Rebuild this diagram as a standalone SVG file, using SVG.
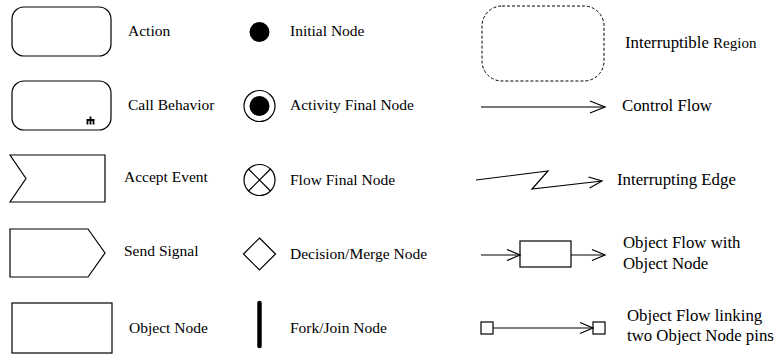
<svg xmlns="http://www.w3.org/2000/svg" width="780" height="356" viewBox="0 0 780 356">
  <defs>
    <style>
      .shape { fill: #fff; stroke: #000; stroke-width: 1.2; }
      .label { font-family: "Liberation Serif", "Times New Roman", serif; font-size: 15.5px; fill: #000; }
      .big { font-size: 16.8px; }
      .edge { fill: none; stroke: #000; stroke-width: 1.2; }
    </style>
    <marker id="open" markerWidth="16" markerHeight="14" refX="14" refY="6" orient="auto" markerUnits="userSpaceOnUse">
      <path d="M1,0.5 L14,6 L1,11.5" fill="none" stroke="#000" stroke-width="1.2"/>
    </marker>
  </defs>
  <rect width="780" height="356" fill="#fff"/>

  <!-- column 1: action shapes -->
  <g id="action">
    <rect class="shape" x="12" y="7" width="99" height="49" rx="12"/>
    <text class="label" x="128" y="36">Action</text>
  </g>
  <g id="call-behavior">
    <rect class="shape" x="12" y="81" width="99" height="49" rx="12"/>
    <path d="M90.5,116.5 V124.5 M86.5,120 H94.5 M87.5,120 V124.5 M93.5,120 V124.5" fill="none" stroke="#000" stroke-width="1.8"/>
    <text class="label" x="128" y="110">Call Behavior</text>
  </g>
  <g id="accept-event">
    <polygon class="shape" points="10,155 105,155 105,202 10,202 26,178.5"/>
    <text class="label" x="124" y="182">Accept Event</text>
  </g>
  <g id="send-signal">
    <polygon class="shape" points="10,229 88,229 105,253 88,277 10,277"/>
    <text class="label" x="124" y="256">Send Signal</text>
  </g>
  <g id="object-node">
    <rect class="shape" x="12" y="303" width="100" height="50" stroke-width="1.6"/>
    <text class="label" x="129" y="333">Object Node</text>
  </g>

  <!-- column 2: control nodes -->
  <g id="initial-node">
    <circle cx="259.5" cy="32" r="10" fill="#000"/>
    <text class="label" x="290" y="36">Initial Node</text>
  </g>
  <g id="activity-final">
    <circle class="shape" cx="259.5" cy="106" r="15.5"/>
    <circle cx="259.5" cy="106" r="10" fill="#000"/>
    <text class="label" x="290" y="110">Activity Final Node</text>
  </g>
  <g id="flow-final">
    <circle class="shape" cx="259.5" cy="180" r="15.5"/>
    <path d="M248.5,169 L270.5,191 M270.5,169 L248.5,191" stroke="#000" stroke-width="1.2"/>
    <text class="label" x="290" y="185">Flow Final Node</text>
  </g>
  <g id="decision-merge">
    <polygon class="shape" points="259.5,238 275.5,254 259.5,270 243.5,254"/>
    <text class="label" x="290" y="259">Decision/Merge Node</text>
  </g>
  <g id="fork-join">
    <line x1="259.5" y1="303" x2="259.5" y2="346" stroke="#000" stroke-width="4.5" stroke-linecap="round"/>
    <text class="label" x="290" y="333">Fork/Join Node</text>
  </g>

  <!-- column 3: region and edges -->
  <g id="interruptible-region">
    <rect x="482" y="6" width="122" height="75" rx="20" fill="none" stroke="#000" stroke-width="1" stroke-dasharray="3,2"/>
    <text class="label big" x="625" y="48">Interruptible <tspan font-size="15">Region</tspan></text>
  </g>
  <g id="pin-left">
    <rect class="shape" x="481" y="322" width="12" height="12"/>
  </g>
  <g id="object-flow-node">
    <rect class="shape" x="520" y="241" width="51" height="26" stroke-width="1.4"/>
  </g>
  <g id="pin-right">
    <rect class="shape" x="593" y="322" width="12" height="12"/>
  </g>

  <g id="connectors">
    <line x1="481" y1="107" x2="605" y2="107" stroke="#777" stroke-width="2"/>
    <path d="M590,101 L605,107 L590,113" fill="none" stroke="#000" stroke-width="1.2"/>
    <polyline class="edge" points="476,180 548,171 532,189 602,181" marker-end="url(#open)"/>
    <line class="edge" x1="481" y1="255" x2="520" y2="255" marker-end="url(#open)"/>
    <line class="edge" x1="571" y1="255" x2="605" y2="255" marker-end="url(#open)"/>
    <line class="edge" x1="493" y1="328" x2="593" y2="328" marker-end="url(#open)"/>
  </g>

  <g id="edge-labels">
    <text class="label big" x="622" y="111">Control Flow</text>
    <text class="label big" x="617" y="185">Interrupting Edge</text>
    <text class="label big" x="623" y="248">Object Flow with</text>
    <text class="label big" x="623" y="269">Object Node</text>
    <text class="label big" x="627" y="321">Object Flow linking</text>
    <text class="label big" x="627" y="341">two Object Node pins</text>
  </g>
</svg>
